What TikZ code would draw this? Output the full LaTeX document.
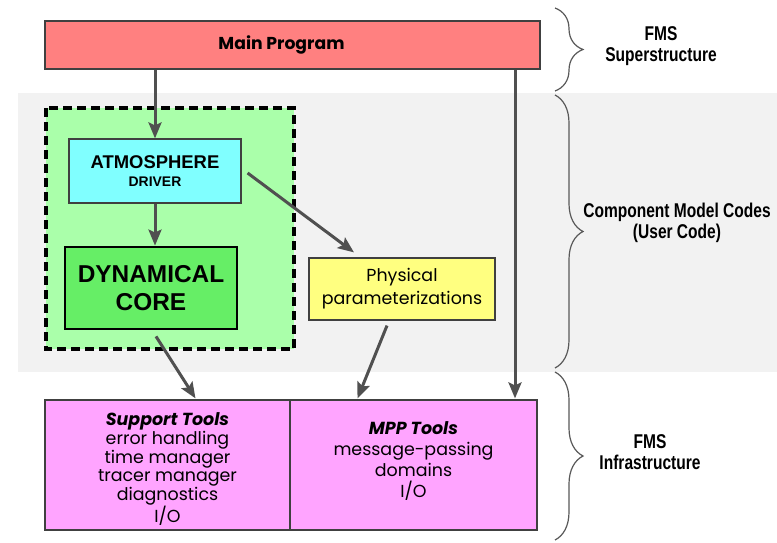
\documentclass[tikz,border=0pt]{standalone}
\usepackage{fontspec}
\setmainfont{Poppins}
\newfontfamily\helv{Liberation Sans}
\newfontfamily\condsans[FakeStretch=0.78]{Liberation Sans}
\usetikzlibrary{arrows.meta,decorations.pathreplacing}
\definecolor{mainred}{HTML}{FF8080}
\definecolor{atmocyan}{HTML}{80FFFF}
\definecolor{lightgreen}{HTML}{AAFFAA}
\definecolor{coregreen}{HTML}{66EE66}
\definecolor{physyellow}{HTML}{FFFF80}
\definecolor{toolpink}{HTML}{FFA4FF}
\definecolor{bandgray}{HTML}{F2F2F2}
\definecolor{arrgray}{HTML}{505050}

\begin{document}
\begin{tikzpicture}[x=1bp,y=-1bp,
    box/.style={draw=black!75,line width=1.2bp,inner sep=0pt,align=center},
    arr/.style={draw=arrgray,line width=3bp,-{Stealth[length=16bp,width=13bp,inset=3bp]}},
    brc/.style={draw=black!65,line width=1.2bp,decorate,decoration={brace,amplitude=28bp}},
    lbl/.style={font=\condsans\bfseries\fontsize{20}{21}\selectfont,align=center},
    tooltext/.style={align=center,inner sep=0pt}]
    \useasboundingbox (0,0) rectangle (777,543);
    \fill[white] (0,0) rectangle (777,543);
    % user code band
    \fill[bandgray] (18,93) rectangle (777,372);
    \draw[dashed,dash pattern=on 9bp off 5bp,line width=3.2bp,fill=lightgreen] (46,108) rectangle (294,349);
    % boxes
    \node[box,fill=mainred,minimum width=495bp,minimum height=48bp,font=\bfseries\fontsize{17.3}{18}\selectfont] (main) at (292.5,45) {Main Program\hspace*{22bp}};
    \node[box,fill=atmocyan,minimum width=172bp,minimum height=64bp,font=\helv\bfseries] (atmo) at (155,171)
        {\fontsize{18.5}{22}\selectfont ATMOSPHERE\\[6bp]\fontsize{14}{16}\selectfont DRIVER};
    \node[box,fill=coregreen,line width=2.8bp,draw=black,minimum width=172bp,minimum height=82bp,font=\helv\bfseries\fontsize{24.5}{28}\selectfont] (core) at (151,288) {DYNAMICAL\\CORE};
    \node[box,fill=physyellow,minimum width=186bp,minimum height=62bp,font=\fontsize{17.5}{23}\selectfont] (phys) at (402,289) {Physical\\parameterizations};
    \node[box,fill=toolpink,minimum width=245bp,minimum height=130bp] (supp) at (167.5,465) {};
    \node[box,fill=toolpink,minimum width=247bp,minimum height=130bp] (mpp) at (413.5,465) {};
    \node[tooltext,font=\fontsize{17.5}{18}\selectfont] (supptxt) at ([yshift=-4bp]supp.center)
        {\textbf{\textit{Support Tools}}\\[1bp]error handling\\time manager\\tracer manager\\diagnostics\\I/O};
    \node[tooltext,font=\fontsize{17.5}{21}\selectfont] (mpptxt) at ([yshift=4bp]mpp.center)
        {\textbf{\textit{MPP Tools}}\\message-passing\\domains\\I/O};
    % connectors
    \coordinate (rdrop) at (515,0);
    \draw[arr] (main.south -| atmo.north) -- (atmo.north);
    \draw[arr] (atmo.south) -- (atmo.south |- core.north);
    \draw[arr] ([xshift=6bp,yshift=-2bp]atmo.east) -- ([xshift=-48bp,yshift=5bp]phys.north);
    \draw[arr] ([xshift=5bp,yshift=-6bp]core.south) -- ([xshift=28bp,yshift=1bp]supp.north);
    \draw[arr] ([xshift=-15bp,yshift=-5bp]phys.south) -- ([xshift=-56bp,yshift=1bp]mpp.north);
    \draw[arr] (main.south -| rdrop) -- ([yshift=1bp]mpp.north -| rdrop);
    % braces
    \draw[brc] (555,8) -- (555,91);
    \draw[brc] (555,95) -- (555,368);
    \draw[brc] (555,372) -- (555,540);
    \node[lbl] (super) at (661,46) {FMS\\Superstructure};
    \node[lbl] (user) at (677,223) {Component Model Codes\\(User Code)};
    \node[lbl] (infra) at (650,452) {FMS\\Infrastructure};
\end{tikzpicture}
\end{document}
